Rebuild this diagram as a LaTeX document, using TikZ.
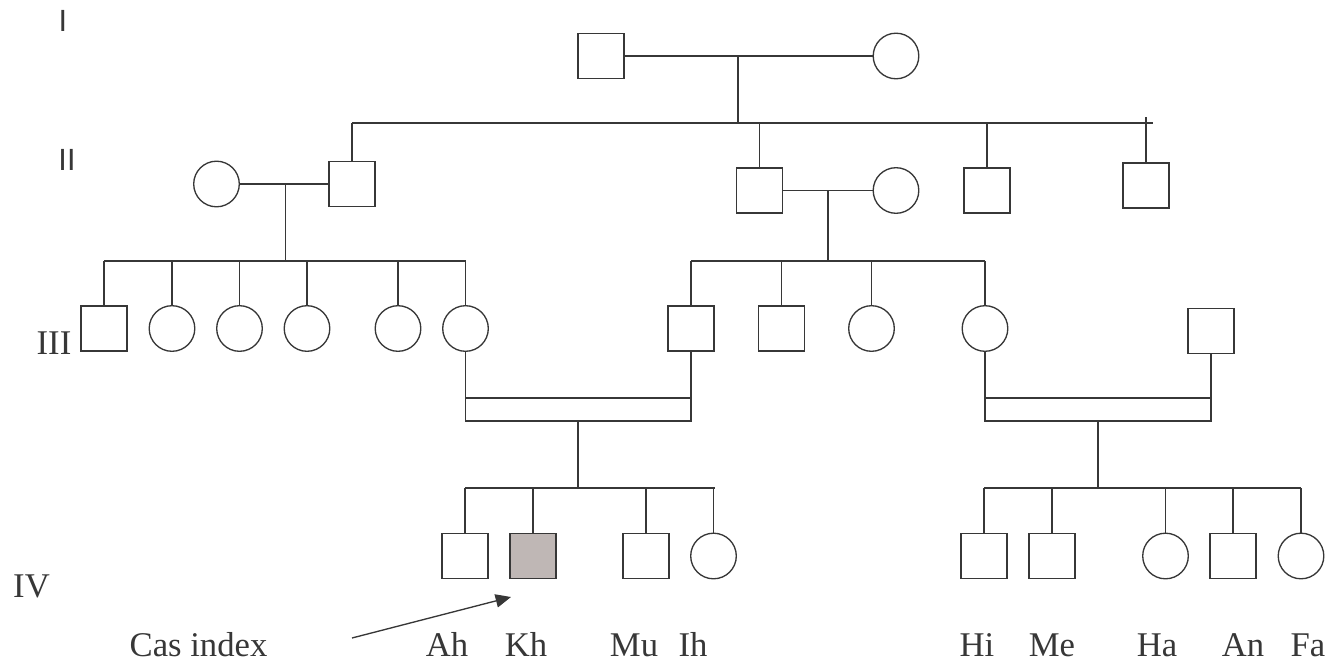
\documentclass[tikz,border=0pt]{standalone}
\usepackage{fontspec}
\setmainfont{Liberation Serif}
\newfontfamily\gensans{Liberation Sans}
\usetikzlibrary{arrows.meta}

\definecolor{pedline}{RGB}{55,55,55}
\definecolor{affected}{RGB}{191,183,181}

\tikzset{
    malebox/.style={draw, rectangle, minimum width=34.5pt, minimum height=33.75pt, inner sep=0pt},
    femalenode/.style={draw, circle, minimum size=34.2pt, inner sep=0pt},
    affectedbox/.style={malebox, fill=affected},
    idlabel/.style={anchor=base, inner sep=0pt, font=\fontsize{26}{30}\selectfont},
    genlabel/.style={anchor=base, inner sep=0pt, font=\gensans\fontsize{23}{28}\selectfont},
}

\begin{document}
\begin{tikzpicture}[x=0.75pt, y=-0.75pt, line width=1pt, color=pedline]
    \useasboundingbox (0,0) rectangle (1337,666);

    % generation labels
    \node [genlabel] (gI) at (63,32) {I};
    \node [genlabel] (gII) at (67,171) {II};
    \node [idlabel] (gIII) at (54,354) {III};
    \node [idlabel] (gIV) at (31.5,597) {IV};

    % generation I
    \node [malebox] (I1) at (601,56) {};
    \node [femalenode] (I2) at (896,56) {};
    \draw (I1) -- (I2);
    \coordinate (mI) at (738,56);
    \coordinate (sibIIa) at (352,123);
    \coordinate (sibIIb) at (1153,123);
    \coordinate (tickII) at (1146,117);
    \draw (mI) -- (mI |- sibIIa);
    \draw (sibIIa) -- (sibIIb);

    % generation II
    \node [femalenode] (II1) at (216.5,184) {};
    \node [malebox] (II2) at (352,184) {};
    \node [malebox] (II3) at (759.5,190.5) {};
    \node [femalenode] (II4) at (896,190.5) {};
    \node [malebox] (II5) at (987,190.5) {};
    \node [malebox] (II6) at (1146,185.5) {};
    \foreach \n in {II2,II3,II5}
        \draw (\n.north) -- (\n.north |- sibIIa);
    \draw (II6.north) -- (II6.north |- tickII);
    \draw (II1) -- (II2);
    \draw (II3) -- (II4);
    \coordinate (mII1) at (285.5,184);
    \coordinate (mII2) at (828,190.5);
    \coordinate (sibIIIa) at (104,261);
    \coordinate (sibIIIb) at (465.5,261);
    \coordinate (sibIIIc) at (691,261);
    \coordinate (sibIIId) at (985,261);
    \draw (mII1) -- (mII1 |- sibIIIa);
    \draw (mII2) -- (mII2 |- sibIIIc);
    \draw (sibIIIa) -- (sibIIIb);
    \draw (sibIIIc) -- (sibIIId);

    % generation III
    \node [malebox] (III1) at (104,328.5) {};
    \node [femalenode] (III2) at (172,328.5) {};
    \node [femalenode] (III3) at (239.5,328.5) {};
    \node [femalenode] (III4) at (307,328.5) {};
    \node [femalenode] (III5) at (398,328.5) {};
    \node [femalenode] (III6) at (465.5,328.5) {};
    \node [malebox] (III7) at (691,328.5) {};
    \node [malebox] (III8) at (781.5,328.5) {};
    \node [femalenode] (III9) at (871.5,328.5) {};
    \node [femalenode] (III10) at (985,328.5) {};
    \node [malebox] (III11) at (1211,331) {};
    \foreach \n in {III1,III2,III3,III4,III5,III6,III7,III8,III9,III10}
        \draw (\n.north) -- (\n.north |- sibIIIa);

    % consanguineous unions (double line)
    \coordinate (cup) at (0,398);
    \coordinate (clow) at (0,421);
    \draw (III6.south) -- (III6.south |- clow) -- (III7.south |- clow) -- (III7.south);
    \draw (III6.south |- cup) -- (III7.south |- cup);
    \draw (III10.south) -- (III10.south |- clow) -- (III11.south |- clow) -- (III11.south);
    \draw (III10.south |- cup) -- (III11.south |- cup);
    \coordinate (mIII1) at (578,421);
    \coordinate (mIII2) at (1098,421);
    \coordinate (sibIVa) at (465,488);
    \coordinate (sibIVb) at (715,488);
    \coordinate (sibIVc) at (984,488);
    \coordinate (sibIVd) at (1301,488);
    \draw (mIII1) -- (mIII1 |- sibIVa);
    \draw (mIII2) -- (mIII2 |- sibIVc);
    \draw (sibIVa) -- (sibIVb);
    \draw (sibIVc) -- (sibIVd);

    % generation IV
    \node [malebox] (IV1) at (465,556) {};
    \node [affectedbox] (IV2) at (533,556) {};
    \node [malebox] (IV3) at (646,556) {};
    \node [femalenode] (IV4) at (713.5,556) {};
    \node [malebox] (IV5) at (984,556) {};
    \node [malebox] (IV6) at (1052,556) {};
    \node [femalenode] (IV7) at (1165.5,556) {};
    \node [malebox] (IV8) at (1233,556) {};
    \node [femalenode] (IV9) at (1301,556) {};
    \foreach \n in {IV1,IV2,IV3,IV4,IV5,IV6,IV7,IV8,IV9}
        \draw (\n.north) -- (\n.north |- sibIVa);

    % names
    \node [idlabel] (nAh) at (447,656) {Ah};
    \node [idlabel] (nKh) at (526,656) {Kh};
    \node [idlabel] (nMu) at (634,656) {Mu};
    \node [idlabel] (nIh) at (693,656) {Ih};
    \node [idlabel] (nHi) at (977,656) {Hi};
    \node [idlabel] (nMe) at (1052,656) {Me};
    \node [idlabel] (nHa) at (1157,656) {Ha};
    \node [idlabel] (nAn) at (1243,656) {An};
    \node [idlabel] (nFa) at (1308,656) {Fa};

    % index case pointer
    \node [idlabel, anchor=base west] (cas) at (129,656) {Cas index};
    \coordinate (castail) at (352,638);
    \coordinate (cashead) at (511,597);
    \draw [-{Triangle[length=11.5pt, width=10pt]}] (castail) -- (cashead);
\end{tikzpicture}
\end{document}
